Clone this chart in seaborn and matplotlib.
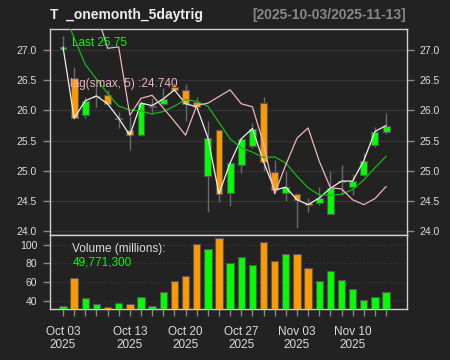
import numpy as np
import pandas as pd
import matplotlib
matplotlib.use("Agg")
import matplotlib.pyplot as plt
import seaborn as sns

# ---------------- data ----------------
open_ = [27.02, 26.54, 25.92, 26.22, 26.25, 25.85, 25.68, 25.59, 26.05, 26.11,
         26.39, 26.34, 26.14, 24.92, 25.68, 24.64, 25.09, 25.41, 26.12, 24.98,
         24.64, 24.62, 24.47, 24.46, 24.29, 24.82, 24.74, 24.93, 25.43, 25.65]
high = [27.23, 26.72, 26.22, 26.40, 26.34, 25.98, 25.90, 26.15, 26.20, 26.37,
        26.45, 26.44, 26.23, 25.83, 25.70, 25.15, 25.55, 25.79, 26.22, 25.18,
        25.00, 24.64, 24.55, 24.73, 24.99, 25.09, 24.94, 25.30, 25.73, 25.96]
low = [26.98, 25.85, 25.88, 26.06, 26.07, 25.71, 25.35, 25.57, 25.96, 26.09,
       26.32, 25.82, 26.02, 24.31, 24.48, 24.41, 24.96, 25.38, 24.99, 24.63,
       24.50, 24.06, 24.32, 24.44, 24.28, 24.60, 24.60, 24.92, 25.40, 25.61]
close = [27.05, 25.87, 26.16, 26.24, 26.11, 25.87, 25.59, 26.12, 26.08, 26.19,
         26.34, 26.11, 26.06, 25.55, 24.62, 25.13, 25.53, 25.70, 25.15, 24.68,
         24.73, 24.52, 24.44, 24.55, 24.71, 24.83, 24.83, 25.17, 25.65, 25.75]
sma_line = [27.65, 27.20, 26.76, 26.52, 26.28, 26.07, 26.01, 25.99, 25.94, 25.98,
            26.07, 26.18, 26.15, 26.07, 25.80, 25.53, 25.38, 25.31, 25.22, 25.23,
            25.13, 24.91, 24.72, 24.60, 24.60, 24.61, 24.69, 24.85, 25.05, 25.24]
lag_smax = [np.nan, np.nan, np.nan, 27.63, 27.03, 27.05, 25.92, 26.20, 26.25, 26.04,
            25.82, 25.59, 26.08, 26.12, 26.23, 26.34, 26.11, 26.06, 25.45, 24.62,
            25.10, 25.54, 25.71, 25.16, 24.72, 24.70, 24.52, 24.44, 24.54, 24.74]
volume_m = [34.8, 63.8, 43.4, 36.9, 33.0, 38.0, 36.6, 43.7, 34.8, 49.5,
            61.6, 66.3, 100.7, 95.7, 107.5, 80.6, 86.4, 77.8, 102.9, 82.1,
            90.3, 89.6, 74.9, 61.3, 72.0, 62.7, 52.7, 41.2, 44.1, 49.77]
xtick_pos = [0, 6, 11, 16, 21, 26]
xtick_labels = ["Oct 03\n2025", "Oct 13\n2025", "Oct 20\n2025",
                "Oct 27\n2025", "Nov 03\n2025", "Nov 10\n2025"]
main_yticks = [24.0, 24.5, 25.0, 25.5, 26.0, 26.5, 27.0]
vol_yticks = [40, 60, 80, 100]

title_text = "T  _onemonth_5daytrig"
range_text = "[2025-10-03/2025-11-13]"
last_text = "Last 25.75"
lag_text = "lag(smax, 5) :24.740"
vol_title = "Volume (millions):"
vol_last = "49,771,300"

# ---------------- style ----------------
BG = "#222222"
UP = "#00ff00"
DN = "#ff9900"
FG = "#888888"
TXT = "#dddddd"
BORDER = "#d0d0d0"
sns.set_theme(style="dark")
plt.rcParams["font.family"] = ["Liberation Sans", "DejaVu Sans"]

W, H = 450, 360
fig = plt.figure(figsize=(4.5, 3.6), dpi=100, facecolor=BG)

def px_axes(left, top, right, bottom):
    return fig.add_axes([left / W, 1 - bottom / H, (right - left) / W, (bottom - top) / H])

ax = px_axes(50.3, 29.0, 406.7, 234.7)
axv = px_axes(50.3, 234.7, 406.7, 309.3)

n = len(close)
idx = np.arange(n)
df = pd.DataFrame({"i": idx, "open": open_, "high": high, "low": low, "close": close,
                   "sma": sma_line, "lag": lag_smax, "vol": volume_m})
df["dir"] = np.where(df["close"] >= df["open"], "up", "dn")
XL = (-1.14, 30.85)

for a in (ax, axv):
    a.set_facecolor(BG)
    for s in a.spines.values():
        s.set_color(BORDER)
        s.set_linewidth(1.0)
    a.set_xlim(*XL)

# ---- main panel ----
ax.set_ylim(23.942, 27.348)
for y in main_yticks:
    ax.axhline(y, color="#333333", lw=0.9, zorder=0)
ax.vlines(df["i"], df["low"], df["high"], color="#6a6a6a", lw=1.0, zorder=2)
body_lo = np.minimum(df["open"], df["close"])
body_h = np.maximum(np.abs(df["close"] - df["open"]), 0.018)
ax.bar(df["i"], body_h, bottom=body_lo, width=0.62,
       color=[UP if d == "up" else DN for d in df["dir"]],
       edgecolor="#555555", linewidth=0.8, zorder=3)
sns.lineplot(data=df, x="i", y="close", ax=ax, color="#eeeeee", lw=0.9, zorder=4)
sns.lineplot(data=df, x="i", y="sma", ax=ax, color="#16b816", lw=0.9, zorder=4)
sns.lineplot(data=df.dropna(subset=["lag"]), x="i", y="lag", ax=ax,
             color="#f0b4bc", lw=0.9, zorder=4)
ax.set_xlim(*XL)
ax.set_xlabel("")
ax.set_ylabel("")
ax.set_xticks([])
ax.set_yticks(main_yticks)
ax.set_yticklabels([f"{v:.1f}" for v in main_yticks])
ax.tick_params(axis="y", which="both", left=True, right=True, labelleft=True,
               labelright=True, length=5, width=1.0, color=FG, labelcolor=TXT,
               labelsize=7.5, pad=4.5, direction="out")

# ---- volume panel ----
sns.barplot(data=df, x="i", y="vol", hue="dir", palette={"up": UP, "dn": DN},
            native_scale=True, dodge=False, width=0.66, edgecolor="#555555",
            linewidth=0.8, legend=False, saturation=1, ax=axv, zorder=3)
axv.set_ylim(30.8, 110.7)
axv.set_xlim(*XL)
for y in vol_yticks:
    axv.axhline(y, color="#3a3a3a", lw=0.8, ls=(0, (1, 2)), zorder=0)
axv.set_xlabel("")
axv.set_ylabel("")
axv.set_yticks(vol_yticks)
axv.set_yticklabels([str(v) for v in vol_yticks])
axv.tick_params(axis="y", left=True, right=False, length=5, width=1.0, color=FG,
                labelcolor=TXT, labelsize=7.5, pad=4.5, direction="out")
axv.set_xticks(xtick_pos)
axv.set_xticklabels(xtick_labels)
axv.set_xticks(idx, minor=True)
axv.tick_params(axis="x", which="both", bottom=True, length=5, width=1.0, color=FG,
                labelcolor=TXT, labelsize=8.5, pad=7, direction="out")
for lab in axv.get_xticklabels():
    lab.set_linespacing(1.15)

# ---- texts ----
def ftext(x, y, s, **kw):
    fig.text(x / W, 1 - y / H, s, **kw)

ftext(50, 15.5, title_text, color="#eeeeee", fontsize=10, fontweight="bold", va="center", ha="left")
ftext(406, 15.5, range_text, color=FG, fontsize=10, fontweight="bold", va="center", ha="right")
ftext(72, 43, last_text, color=UP, fontsize=8.5, va="center", ha="left")
ftext(70.5, 84, lag_text, color="#f0b4bc", fontsize=8.5, va="center", ha="left")
ftext(72.5, 249, vol_title, color=TXT, fontsize=8.5, va="center", ha="left")
ftext(72.5, 262.5, vol_last, color=UP, fontsize=8.5, va="center", ha="left")

fig.savefig("out.png", dpi=100, facecolor=BG)
